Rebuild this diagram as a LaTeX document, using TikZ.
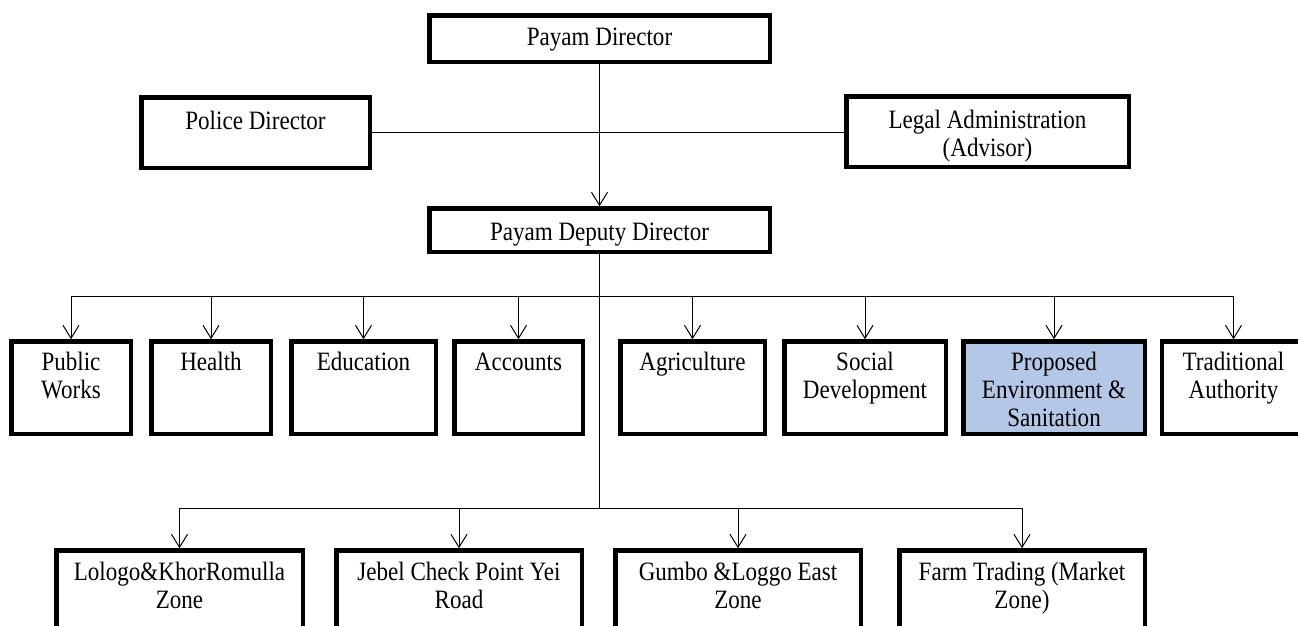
\documentclass[tikz,border=0pt]{standalone}
\usepackage{fontspec}
\setmainfont{Liberation Serif}[FakeStretch=0.87]
\usetikzlibrary{arrows.meta}
\definecolor{propblue}{HTML}{B4C7E7}
\tikzset{
  unit/.style={draw, line width=4.5pt, anchor=north, align=flush center,
    inner xsep=0pt, inner ysep=0pt, text width=#1,
    font=\fontsize{26.5}{28.2}\selectfont},
  head/.style={unit=#1, text height=30pt, text depth=16.5pt},
  side/.style={unit=#1, text height=31.5pt, text depth=39pt},
  dept/.style={unit=#1, text height=28.75pt, text depth=63.75pt},
  zone/.style={unit=#1, text height=30pt, text depth=80pt},
  link/.style={line width=1pt},
  feed/.style={link, -{Straight Barb[length=13pt,width=16pt]}}
}
\begin{document}
\begin{tikzpicture}[x=1pt,y=-1pt]
  \clip (0,0) rectangle (1298,625);
  % top of the office
  \node[head=340.5pt] (director) at (599.5,13.25) {Payam Director};
  \node[side=228.5pt] (police) at (255.5,95.25) {Police Director};
  \node[side=282.5pt] (legal) at (987.5,94.25) {Legal Administration\\(Advisor)};
  \node[unit=340.5pt, text height=32pt, text depth=11.5pt] (deputy) at (599.5,206.25) {Payam Deputy Director};
  % departments
  \node[dept=119.5pt] (works) at (71,339.25) {Public\\Works};
  \node[dept=119.5pt] (health) at (211,339.25) {Health};
  \node[dept=144.5pt] (education) at (363.5,339.25) {Education};
  \node[dept=128.5pt] (accounts) at (518.5,339.25) {Accounts};
  \node[dept=144.5pt] (agriculture) at (692.5,339.25) {Agriculture};
  \node[dept=161.5pt] (social) at (865,339.25) {Social\\Development};
  \node[dept=181.5pt, fill=propblue] (environment) at (1054,339.25) {Proposed\\Environment \&\\Sanitation};
  \node[dept=143.5pt] (traditional) at (1233.5,339.25) {Traditional\\Authority};
  % zones
  \node[zone=246.5pt] (lologo) at (179.5,548.25) {Lologo\&KhorRomulla\\Zone};
  \node[zone=245.5pt] (jebel) at (459,548.25) {Jebel Check Point Yei\\Road};
  \node[zone=245.5pt] (gumbo) at (738,548.25) {Gumbo \&Loggo East\\Zone};
  \node[zone=245.5pt] (farm) at (1022,548.25) {Farm Trading (Market\\Zone)};

  \coordinate (deptbus) at (599.5,296.5);
  \coordinate (zonebus) at (599.5,508);
  \draw[feed] (director.south) -- (deputy.north);
  \draw[link] (police.east) -- (legal.west |- police.east);
  \draw[link] (deputy.south) -- (zonebus);
  \draw[link] (works.north |- deptbus) -- (traditional.north |- deptbus);
  \draw[link] (lologo.north |- zonebus) -- (farm.north |- zonebus);
  \foreach \d in {works,health,education,accounts,agriculture,social,environment,traditional}
    \draw[feed] (\d.north |- deptbus) -- (\d.north);
  \foreach \z in {lologo,jebel,gumbo,farm}
    \draw[feed] (\z.north |- zonebus) -- (\z.north);
\end{tikzpicture}
\end{document}
